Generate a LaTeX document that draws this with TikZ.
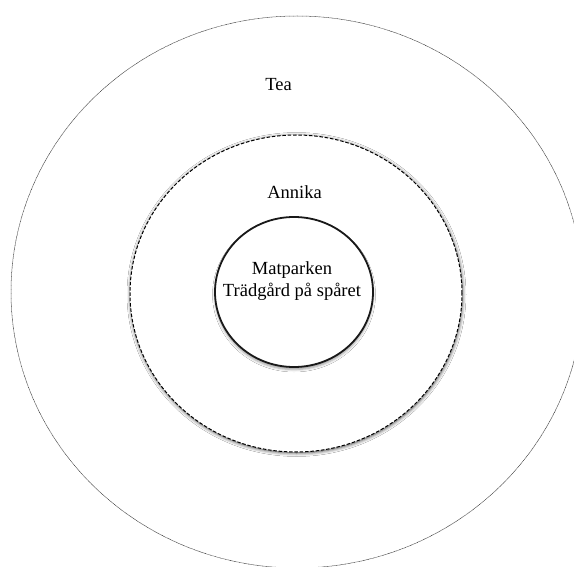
\documentclass[tikz,border=0pt]{standalone}
\usepackage{fontspec}
\setmainfont{Liberation Serif}
\usetikzlibrary{shapes.geometric,shadows.blur}
\begin{document}
\begin{tikzpicture}[x=1pt,y=-1pt,
  ring/.style={ellipse,inner sep=0pt,outer sep=0pt},
  outerring/.style={ring,draw=black!80,line width=0.5pt,dash pattern=on 0.8pt off 0.5pt},
  midring/.style={ring,draw=black,fill=white,line width=1pt,dash pattern=on 3.5pt off 1.8pt,
     blur shadow={shadow xshift=0.5pt,shadow yshift=-1pt,shadow blur radius=3.5pt,shadow opacity=75}},
  innerring/.style={ring,draw=black!90,fill=white,line width=1.8pt,
     blur shadow={shadow xshift=0pt,shadow yshift=-2.5pt,shadow blur radius=2.5pt,shadow opacity=40}},
  lbl/.style={inner sep=0pt,font=\fontsize{18.5}{22}\selectfont,align=center}]
\useasboundingbox (0,0) rectangle (574,567);
\fill[white] (0,0) rectangle (574,567);
\node[outerring,minimum width=572pt,minimum height=552pt] (outer) at (297,292) {};
\node[midring,minimum width=332pt,minimum height=317pt] (middle) at (296,293.5) {};
\node[innerring,minimum width=158pt,minimum height=150pt] (inner) at (294,292) {};
\node[lbl] (tea) at (278.5,85) {Tea};
\node[lbl] (annika) at (294.5,192) {Annika};
\node[lbl] (mat) at (292,281) {Matparken\\Trädgård på spåret};
\end{tikzpicture}
\end{document}
